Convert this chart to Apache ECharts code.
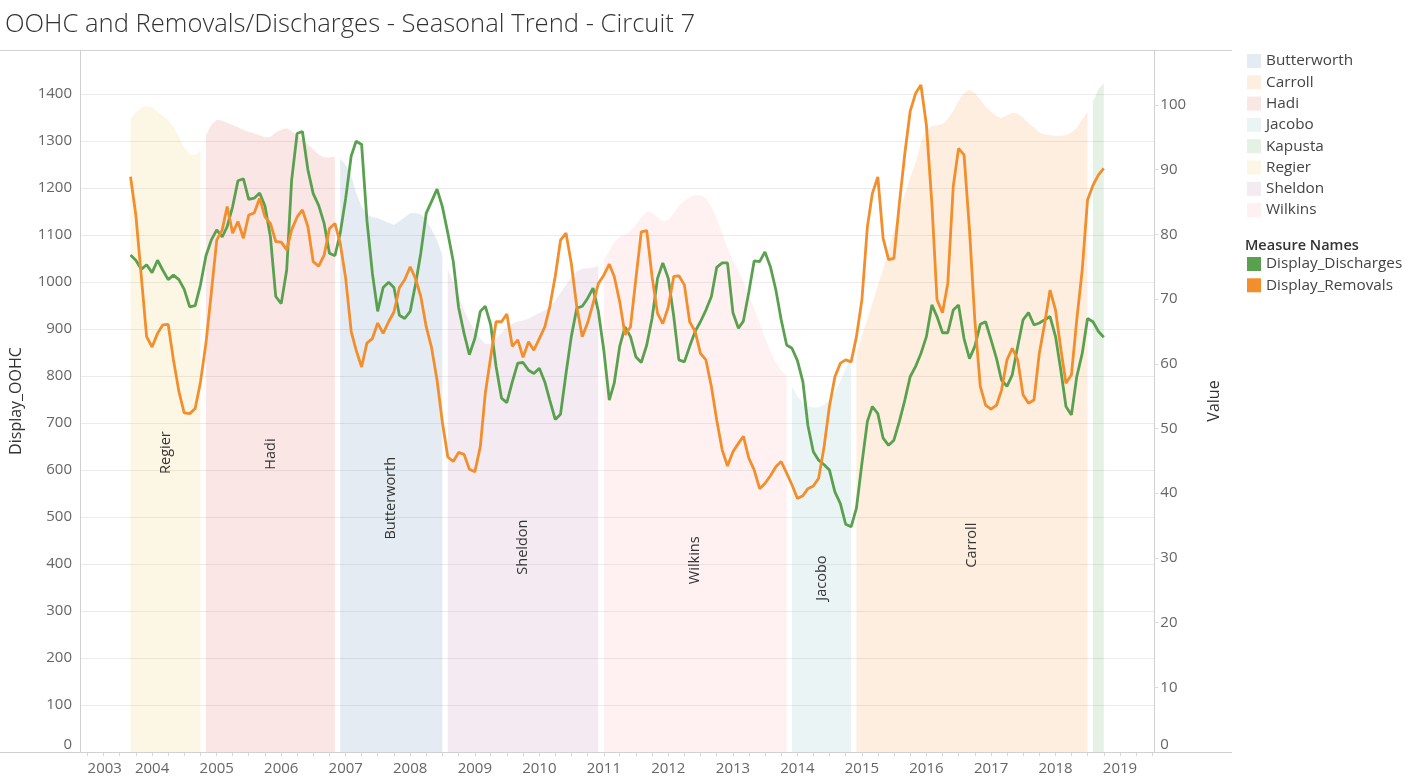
<!DOCTYPE html>
<html><head><meta charset="utf-8">
<script src="https://cdn.jsdelivr.net/npm/echarts@6/dist/echarts.min.js"></script>
<style>html,body{margin:0;padding:0;background:#fff}#c{width:1410px;height:783px}</style>
</head><body><div id="c"></div>
<script>
// ---------- data ----------
const lineStart = '2003-09';
const removals = [
  88.9, 83.0, 73.5, 64.2,
  62.6, 64.7, 66.0, 66.1, 60.6, 55.7, 52.4, 52.3, 53.1, 57.2, 63.2, 70.9,
  79.1, 80.7, 84.3, 80.2, 82.0, 79.4, 83.0, 83.3, 85.6, 82.7, 81.7, 78.9,
  78.8, 77.6, 80.7, 82.7, 83.8, 81.2, 75.8, 75.1, 76.8, 80.9, 81.7, 78.6,
  73.2, 65.0, 62.1, 59.5, 63.2, 63.9, 66.3, 64.7, 66.5, 68.0, 71.8, 73.0,
  75.0, 73.1, 70.4, 65.7, 62.5, 57.5, 51.0, 45.6, 44.9, 46.3, 46.0, 43.7,
  43.3, 47.2, 55.4, 61.1, 66.5, 66.5, 67.7, 62.7, 63.7, 61.0, 63.4, 62.1,
  63.9, 65.7, 68.8, 73.5, 79.1, 80.2, 75.5, 68.8, 64.2, 66.3, 69.3, 72.4,
  73.7, 75.4, 73.5, 69.6, 64.5, 65.7, 73.0, 80.4, 80.6, 73.5, 67.8, 66.2,
  68.8, 73.5, 73.6, 72.2, 66.5, 65.0, 61.6, 60.6, 56.5, 51.3, 46.7, 44.2,
  46.4, 47.7, 48.8, 45.4, 43.6, 40.7, 41.5, 42.7, 44.1, 44.9, 43.1, 41.3,
  39.2, 39.6, 40.7, 41.1, 42.3, 47.2, 53.4, 58.0, 60.1, 60.6, 60.3, 64.2,
  69.9, 81.2, 86.3, 88.9, 79.4, 76.1, 76.3, 84.8, 92.5, 99.0, 101.8, 103.1,
  96.9, 84.8, 69.9, 67.9, 72.4, 87.4, 93.3, 92.3, 80.7, 66.8, 56.5, 53.6,
  53.0, 53.6, 55.9, 60.6, 62.4, 60.6, 55.2, 53.9, 54.4, 61.6, 66.3, 71.4,
  68.3, 62.1, 57.0, 58.3, 66.8, 74.5, 85.3, 87.6, 89.2, 90.2
];
const discharges = [
  76.8, 76.0, 74.6, 75.3,
  74.1, 76.0, 74.5, 73.0, 73.7, 73.0, 71.5, 68.8, 69.0, 72.2, 76.7, 79.1,
  80.7, 79.6, 81.2, 84.3, 88.3, 88.6, 85.4, 85.6, 86.4, 84.4, 79.6, 70.4,
  69.3, 74.5, 88.4, 95.6, 95.9, 90.0, 86.3, 84.5, 81.7, 77.1, 76.7, 80.2,
  85.6, 92.1, 94.4, 93.9, 82.2, 74.0, 68.1, 71.8, 72.6, 71.8, 67.5, 67.0,
  68.1, 72.4, 77.1, 83.3, 85.1, 87.0, 84.3, 80.2, 75.8, 68.7, 64.7, 61.4,
  63.9, 68.1, 68.9, 66.0, 59.6, 54.7, 54.0, 57.2, 60.1, 60.2, 59.0, 58.5,
  59.3, 57.2, 54.4, 51.4, 52.2, 58.5, 64.2, 68.6, 68.9, 70.1, 71.7, 68.1,
  62.1, 54.4, 57.0, 62.7, 65.7, 64.2, 61.1, 60.2, 62.9, 67.0, 73.2, 75.6,
  73.2, 67.3, 60.6, 60.3, 62.7, 65.0, 66.5, 68.3, 70.4, 74.9, 75.6, 75.6,
  67.9, 65.5, 66.6, 71.1, 75.9, 75.8, 77.3, 75.0, 71.4, 66.8, 62.9, 62.4,
  60.5, 57.2, 50.5, 46.4, 45.1, 44.4, 43.6, 40.2, 38.4, 35.2, 34.8, 37.7,
  44.6, 51.1, 53.4, 52.3, 48.5, 47.4, 48.2, 51.1, 54.4, 58.0, 59.6, 61.6,
  64.2, 69.1, 67.3, 64.8, 64.8, 68.3, 69.1, 63.9, 60.8, 62.7, 66.1, 66.5,
  63.7, 60.8, 57.5, 56.5, 58.3, 62.7, 66.8, 67.9, 66.0, 66.3, 66.8, 67.3,
  64.2, 58.8, 53.4, 52.1, 58.0, 61.6, 67.0, 66.5, 65.0, 64.1
];

const periodNames  = ['Regier', 'Hadi', 'Butterworth', 'Sheldon', 'Wilkins', 'Jacobo', 'Carroll', 'Kapusta'];
const periodStarts = ['2003-09', '2004-11', '2006-12', '2008-08', '2011-01', '2013-12', '2014-12', '2018-08'];
const oohcRegier = [1347, 1360, 1371, 1374, 1372, 1361, 1354, 1345, 1330, 1310, 1286, 1272, 1270, 1281];
const oohcHadi = [1313, 1334, 1345, 1343, 1339, 1334, 1329, 1324, 1319, 1316, 1312, 1308, 1309, 1318, 1324,
  1327, 1321, 1312, 1302, 1293, 1282, 1271, 1265, 1265, 1267];
const oohcButterworth = [1263, 1249, 1226, 1190, 1160, 1144, 1138, 1136, 1131, 1126, 1121, 1129, 1138, 1146,
  1147, 1144, 1131, 1112, 1089, 1057];
const oohcSheldon = [1027, 1000, 970, 940, 916, 897, 880, 868, 868, 879, 892, 904, 911, 916, 918, 922, 928, 934,
  940, 948, 960, 977, 993, 1011, 1023, 1028, 1029, 1031, 1034];
const oohcWilkins = [1048, 1066, 1084, 1096, 1101, 1108, 1122, 1137, 1150, 1148, 1138, 1129, 1132, 1146, 1162,
  1173, 1181, 1185, 1184, 1178, 1160, 1135, 1104, 1071, 1045, 1025, 1001, 972, 943, 912, 882, 852, 828, 812, 800];
const oohcJacobo = [778, 757, 743, 735, 733, 733, 739, 749, 766, 789, 815, 845];
const oohcCarroll = [848, 885, 922, 955, 993, 1028, 1068, 1110, 1148, 1186, 1222, 1254, 1296, 1324, 1332, 1333,
  1336, 1346, 1364, 1385, 1402, 1409, 1402, 1388, 1373, 1362, 1353, 1349, 1355, 1360, 1358, 1350, 1338, 1328,
  1318, 1314, 1312, 1311, 1311, 1312, 1318, 1327, 1346, 1362];
const oohcKapusta = [1384, 1410, 1423];
const oohcValues = [oohcRegier, oohcHadi, oohcButterworth, oohcSheldon, oohcWilkins, oohcJacobo, oohcCarroll, oohcKapusta];

const yearLabels = [2003, 2004, 2005, 2006, 2007, 2008, 2009, 2010, 2011, 2012, 2013, 2014, 2015, 2016, 2017, 2018, 2019];
const legendNames = ['Butterworth', 'Carroll', 'Hadi', 'Jacobo', 'Kapusta', 'Regier', 'Sheldon', 'Wilkins'];

// ---------- styling / placement config ----------
const areaColors = {
  Butterworth: 'rgba(78,121,167,0.15)', Carroll: 'rgba(242,142,43,0.15)', Hadi: 'rgba(225,87,89,0.15)',
  Jacobo: 'rgba(118,183,178,0.15)', Kapusta: 'rgba(89,161,79,0.15)', Regier: 'rgba(237,201,72,0.15)',
  Sheldon: 'rgba(176,122,161,0.15)', Wilkins: 'rgba(255,157,167,0.15)'
};
const labelLevel = { Regier: 637, Hadi: 634, Butterworth: 540, Sheldon: 436, Wilkins: 408, Jacobo: 370, Carroll: 440 };
const FONT = '"Open Sans", "DejaVu Sans", sans-serif';

function monthTs(start, i) {
  const p = start.split('-').map(Number);
  return Date.UTC(p[0], p[1] - 1 + i, 1);
}
function toSeries(start, vals) { return vals.map((v, i) => [monthTs(start, i), v]); }

const series = [];
periodNames.forEach((name, k) => {
  const d = toSeries(periodStarts[k], oohcValues[k]);
  const s = {
    name, type: 'line', yAxisIndex: 0, data: d, showSymbol: false, symbol: 'none',
    color: areaColors[name], lineStyle: { width: 0 }, areaStyle: { color: areaColors[name], opacity: 1 },
    emphasis: { disabled: true }, z: 1, silent: true
  };
  if (labelLevel[name] != null) {
    const mid = (d[0][0] + d[d.length - 1][0]) / 2;
    s.markPoint = {
      symbol: 'rect', symbolSize: 1, itemStyle: { color: 'rgba(0,0,0,0)' }, silent: true,
      label: { show: true, formatter: name, rotate: 90, position: 'inside', color: '#333', fontSize: 14.5, fontFamily: FONT },
      data: [{ coord: [mid, labelLevel[name]] }]
    };
  }
  series.push(s);
});
series.push({
  name: 'Display_Discharges', type: 'line', yAxisIndex: 1, data: toSeries(lineStart, discharges),
  showSymbol: false, symbol: 'none', color: '#59a14f', lineStyle: { width: 2.8, color: '#59a14f' },
  emphasis: { disabled: true }, z: 3
});
series.push({
  name: 'Display_Removals', type: 'line', yAxisIndex: 1, data: toSeries(lineStart, removals),
  showSymbol: false, symbol: 'none', color: '#f28e2b', lineStyle: { width: 2.8, color: '#f28e2b' },
  emphasis: { disabled: true }, z: 4
});

const X_MIN = Date.UTC(2002, 10, 19), X_MAX = Date.UTC(2019, 6, 14);
const quarterTicks = [];
for (let y = 2003; y <= 2019; y++) for (let q = 0; q < 4; q++) {
  const t = Date.UTC(y, q * 3, 1);
  if (t < X_MAX) quarterTicks.push(t);
}

const chart = echarts.init(document.getElementById('c'), null, { renderer: 'canvas' });
chart.setOption({
  animation: false,
  textStyle: { fontFamily: FONT },
  title: [
    { text: 'OOHC and Removals/Discharges - Seasonal Trend - Circuit 7', left: 0, top: 7,
      textStyle: { fontSize: 25.6, fontWeight: 300, color: '#333', fontFamily: FONT } },
    { text: 'Measure Names', left: 1240, top: 233,
      textStyle: { fontSize: 14.5, fontWeight: 600, color: '#333', fontFamily: FONT } }
  ],
  legend: [
    { data: legendNames, orient: 'vertical', left: 1247, top: 53.5, itemWidth: 14, itemHeight: 14, itemGap: 6.3,
      icon: 'rect', padding: 0, selectedMode: false,
      textStyle: { fontSize: 15.3, color: '#444', lineHeight: 14, fontFamily: FONT } },
    { data: ['Display_Discharges', 'Display_Removals'], orient: 'vertical', left: 1247, top: 256.5,
      itemWidth: 14, itemHeight: 14, itemGap: 6.3, icon: 'rect', padding: 0, selectedMode: false,
      textStyle: { fontSize: 15.3, color: '#444', lineHeight: 14, fontFamily: FONT } }
  ],
  grid: { left: 77.5, right: 255.7, top: 50, bottom: 31, containLabel: false },
  xAxis: {
    type: 'value', min: X_MIN, max: X_MAX, scale: true,
    axisLine: { show: true, onZero: false, lineStyle: { color: '#d0d0d0', width: 1 } },
    axisTick: { show: true, length: 4, lineStyle: { color: '#d8d8d8' }, customValues: quarterTicks },
    axisLabel: {
      customValues: yearLabels.map(y => Date.UTC(y, 0, 1)),
      formatter: v => String(new Date(v).getUTCFullYear()),
      fontSize: 15, color: '#666', margin: 9, alignMinLabel: 'left', fontFamily: FONT
    },
    splitLine: { show: false }, minorTick: { show: false }
  },
  yAxis: [
    { type: 'value', position: 'left', min: 0, max: 1493.6, interval: 100,
      name: 'Display_OOHC', nameLocation: 'middle', nameGap: 56, nameRotate: 90,
      nameTextStyle: { fontSize: 16, color: '#333', fontFamily: FONT },
      axisLine: { show: true, lineStyle: { color: '#d0d0d0' } }, axisTick: { show: false },
      axisLabel: { fontSize: 15, color: '#666', margin: 8, showMaxLabel: false, verticalAlignMinLabel: 'bottom',
        formatter: v => String(v), fontFamily: FONT },
      splitLine: { show: true, lineStyle: { color: '#ebebeb', width: 1 } } },
    { type: 'value', position: 'right', min: 0, max: 108.5, interval: 10,
      name: 'Value', nameLocation: 'middle', nameGap: 52, nameRotate: 90,
      nameTextStyle: { fontSize: 16, color: '#333', fontFamily: FONT },
      axisLine: { show: true, lineStyle: { color: '#d0d0d0' } },
      axisTick: { show: true, length: 4, lineStyle: { color: '#dcdcdc' } },
      axisLabel: { fontSize: 15, color: '#666', margin: 6, showMaxLabel: false, verticalAlignMinLabel: 'bottom',
        formatter: v => String(v), fontFamily: FONT },
      splitLine: { show: false } }
  ],
  graphic: [
    { type: 'line', silent: true, shape: { x1: 0, y1: 50.5, x2: 1232, y2: 50.5 }, style: { stroke: '#d4d4d4', lineWidth: 1 }, z: 10 },
    { type: 'line', silent: true, shape: { x1: 0, y1: 752.5, x2: 1232, y2: 752.5 }, style: { stroke: '#d0d0d0', lineWidth: 1 }, z: 10 }
  ],
  series
});
</script>
</body></html>
